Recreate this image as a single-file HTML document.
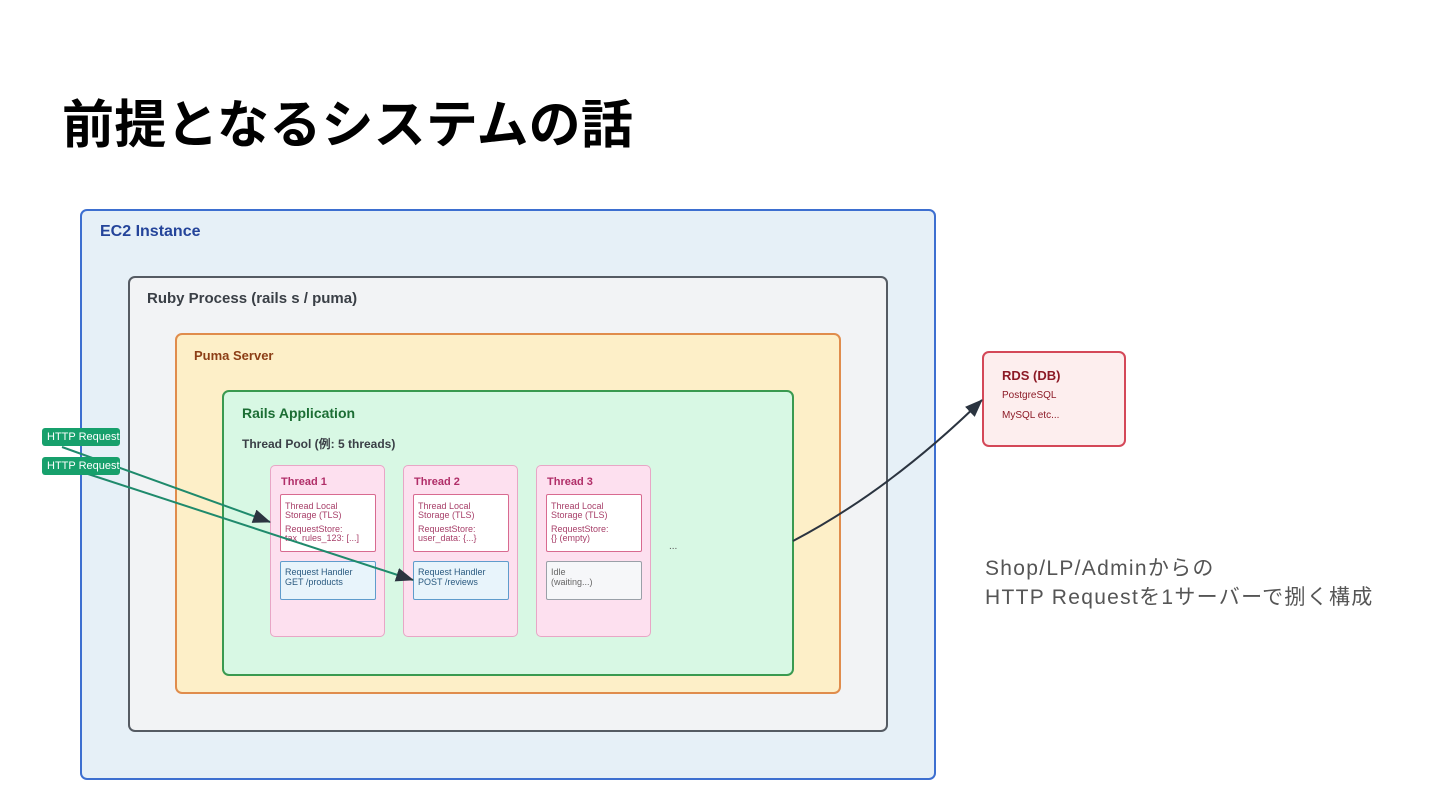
<!DOCTYPE html>
<html><head><meta charset="utf-8"><style>
body{margin:0;width:1440px;height:810px;background:#fff;position:relative;overflow:hidden;font-family:"Liberation Sans","Noto Sans CJK JP",sans-serif}
.b{position:absolute;box-sizing:border-box;border-radius:7px}
.t{position:absolute;white-space:nowrap}
.th{position:absolute;box-sizing:border-box;background:#fde0ef;border:1.5px solid #e8a6c6;border-radius:5px;width:115px;height:172px;top:465px}
.th .h{position:absolute;left:10px;top:10px;font-size:11px;font-weight:bold;color:#b02e68}
.tls{position:absolute;left:9px;top:28px;width:96px;height:58px;box-sizing:border-box;background:#fff;border:1.5px solid #d86a90;border-radius:2px;font-size:9px;color:#a8406a;padding:7px 4px;line-height:9px}
.hd{position:absolute;left:9px;top:95px;width:96px;height:39px;box-sizing:border-box;background:#e8f4fb;border:1.5px solid #5f9ccc;border-radius:2px;font-size:9px;color:#2a5a80;padding:6px 4px;line-height:9.5px}
.lab{position:absolute;left:42px;width:78px;height:18px;background:#17a06c;border-radius:3px;color:#fff;font-size:11px;line-height:18px;padding-left:5px;box-sizing:border-box;overflow:hidden;white-space:nowrap}
</style></head><body>
<div class="t" style="left:62px;top:83px;font-size:52px;font-weight:bold;color:#000;letter-spacing:0.2px">前提となるシステムの話</div>

<div class="b" style="left:80px;top:209px;width:856px;height:571px;background:#e6f0f7;border:2.5px solid #3d6fd0"></div>
<div class="t" style="left:100px;top:223px;font-size:16px;font-weight:bold;color:#24449a">EC2 Instance</div>
<div class="b" style="left:128px;top:276px;width:760px;height:456px;background:#f2f3f5;border:2px solid #555b63"></div>
<div class="t" style="left:147px;top:290px;font-size:15px;font-weight:bold;color:#3a3f46">Ruby Process (rails s / puma)</div>
<div class="b" style="left:175px;top:333px;width:666px;height:361px;background:#fdefc8;border:2px solid #e08c4c"></div>
<div class="t" style="left:194px;top:348px;font-size:13px;font-weight:bold;color:#8c3e16">Puma Server</div>
<div class="b" style="left:222px;top:390px;width:572px;height:286px;background:#d8f8e4;border:2px solid #3a9a50"></div>
<div class="t" style="left:242px;top:405px;font-size:14px;font-weight:bold;color:#1c6e34">Rails Application</div>
<div class="t" style="left:242px;top:435px;font-size:12px;font-weight:bold;color:#3a3f46">Thread Pool (例: 5 threads)</div>

<div class="th" style="left:270px"><div class="h">Thread 1</div><div class="tls">Thread Local<br>Storage (TLS)<div style="margin-top:5px">RequestStore:<br>tax_rules_123: [...]</div></div><div class="hd">Request Handler<br>GET /products</div></div>
<div class="th" style="left:403px"><div class="h">Thread 2</div><div class="tls">Thread Local<br>Storage (TLS)<div style="margin-top:5px">RequestStore:<br>user_data: {...}</div></div><div class="hd">Request Handler<br>POST /reviews</div></div>
<div class="th" style="left:536px"><div class="h">Thread 3</div><div class="tls">Thread Local<br>Storage (TLS)<div style="margin-top:5px">RequestStore:<br>{} (empty)</div></div><div class="hd" style="background:#f6f7f9;border-color:#9aa0a8;color:#666">Idle<br>(waiting...)</div></div>
<div class="t" style="left:669px;top:541px;font-size:10px;color:#555">...</div>

<div class="b" style="left:982px;top:351px;width:144px;height:96px;background:#fdeeee;border:2px solid #d44858"></div>
<div class="t" style="left:1002px;top:368px;font-size:13px;font-weight:bold;color:#8c1a26">RDS (DB)</div>
<div class="t" style="left:1002px;top:390px;font-size:10px;color:#8c1a26">PostgreSQL</div>
<div class="t" style="left:1002px;top:410px;font-size:10px;color:#8c1a26">MySQL etc...</div>

<svg style="position:absolute;left:0;top:0" width="1440" height="810">
<defs>
<marker id="a2" markerWidth="18" markerHeight="14" refX="17" refY="7" orient="auto" markerUnits="userSpaceOnUse"><path d="M0,0 L18,7 L0,14 z" fill="#2b3440"/></marker></defs>
<line x1="62" y1="447" x2="270" y2="522" stroke="#1f8a6c" stroke-width="2" marker-end="url(#a2)"/>
<line x1="88" y1="474" x2="413" y2="580" stroke="#1f8a6c" stroke-width="2" marker-end="url(#a2)"/>
<path d="M793,541 Q890,490 982,400" fill="none" stroke="#2b3440" stroke-width="2" marker-end="url(#a2)"/>
</svg>
<div class="lab" style="top:428px">HTTP Request</div>
<div class="lab" style="top:457px">HTTP Request</div>

<div class="t" style="left:985px;top:554px;font-size:21px;color:#555;line-height:29px;letter-spacing:1.3px">Shop/LP/Adminからの<br>HTTP Requestを1サーバーで捌く構成</div>
</body></html>
